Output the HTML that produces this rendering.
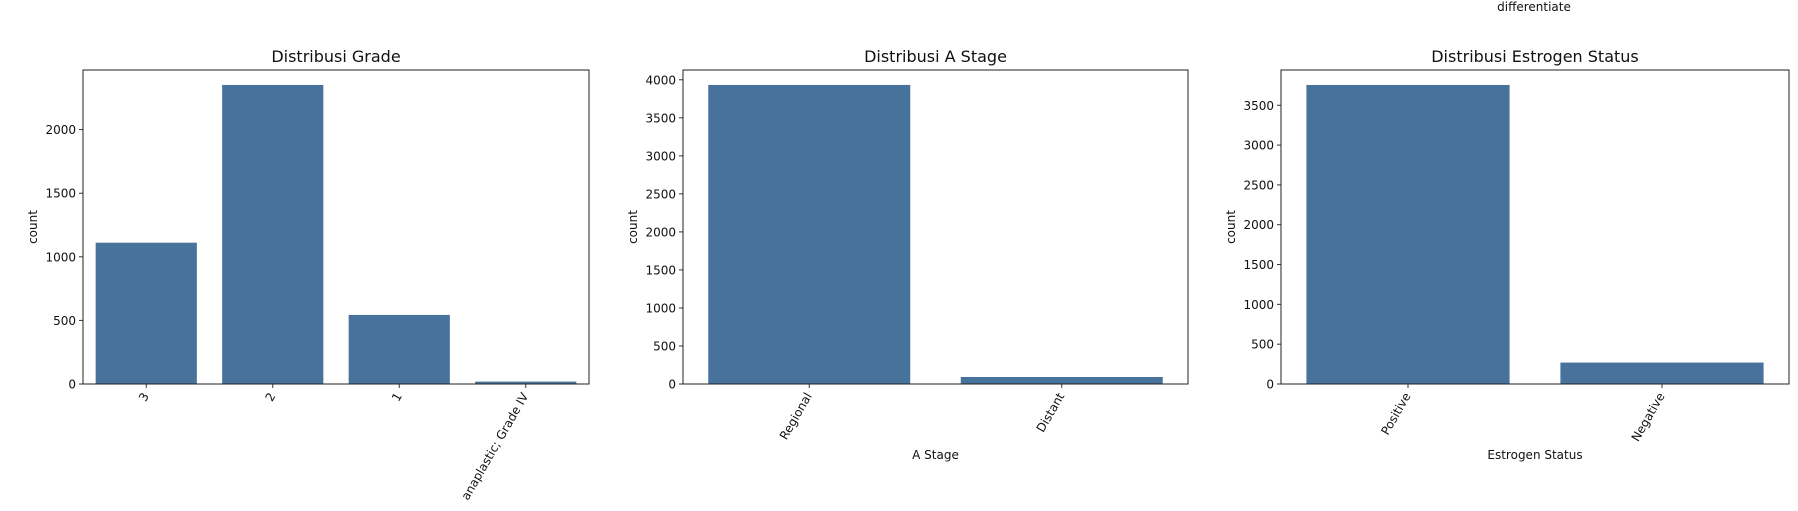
<!DOCTYPE html>
<html><head><meta charset="utf-8"><style>
html,body{margin:0;padding:0;background:#fff;}
svg{display:block;font-family:"DejaVu Sans","Liberation Sans",sans-serif;}
</style></head><body>
<svg id="fig" width="1798" height="511" viewBox="0 0 1798 511" xmlns="http://www.w3.org/2000/svg">
<text x="1534" y="11" font-size="12" text-anchor="middle" fill="#111">differentiate</text>
</svg>
<script>
const gradeCategories = ["3", "2", "1", "anaplastic; Grade IV"];
const gradeCounts = [1111, 2351, 543, 19];
const gradeTicks = [0, 500, 1000, 1500, 2000];
const stageCategories = ["Regional", "Distant"];
const stageCounts = [3932, 92];
const stageTicks = [0, 500, 1000, 1500, 2000, 2500, 3000, 3500, 4000];
const estrogenCategories = ["Positive", "Negative"];
const estrogenCounts = [3755, 269];
const estrogenTicks = [0, 500, 1000, 1500, 2000, 2500, 3000, 3500];

const NS = "http://www.w3.org/2000/svg";
const svg = document.getElementById("fig");
function mk(tag, attrs, parent) {
  const e = document.createElementNS(NS, tag);
  for (const k in attrs) e.setAttribute(k, attrs[k]);
  (parent || svg).appendChild(e);
  return e;
}
function chart(key, title, cats, vals, ticks, xlabel, L, R) {
  const T = 70, B = 384;
  const g = mk("g", {});
  
  
  const ymax = Math.max(...vals) * 1.05;
  const y = v => B - v / ymax * (B - T);
  const band = (R - L) / cats.length;
  const x = i => L + band * (i + 0.5);
  cats.forEach((c, i) => {
    const r = mk("rect", {x: x(i) - band * 0.4, y: y(vals[i]), width: band * 0.8, height: B - y(vals[i]), fill: "#46729c"}, g);
    
    
    mk("line", {x1: x(i), x2: x(i), y1: B, y2: B + 4, stroke: "#333", "stroke-width": 1}, g);
    const t = mk("text", {x: x(i), y: B + 10, "font-size": 12, "text-anchor": "end", fill: "#111",
      transform: "rotate(-60 " + x(i) + " " + (B + 10) + ")", "dominant-baseline": "middle"}, g);
    t.textContent = c;
    
    
  });
  ticks.forEach(v => {
    mk("line", {x1: L - 4, x2: L, y1: y(v), y2: y(v), stroke: "#333", "stroke-width": 1}, g);
    const t = mk("text", {x: L - 7, y: y(v) + 4.5, "font-size": 12, "text-anchor": "end", fill: "#111"}, g);
    t.textContent = v;
    
    
  });
  const fr = mk("rect", {x: L, y: T, width: R - L, height: B - T, fill: "none", stroke: "#222", "stroke-width": 1}, g);
  
  
  const tt = mk("text", {x: (L + R) / 2, y: 62, "font-size": 16, "text-anchor": "middle", fill: "#111"}, g);
  tt.textContent = title;
  
  
  const yl = mk("text", {x: 0, y: 0, "font-size": 12, "text-anchor": "middle", fill: "#111",
    transform: "translate(" + (L - 46) + " " + ((T + B) / 2) + ") rotate(-90)"}, g);
  yl.textContent = "count";
  
  
  if (xlabel) {
    const xl = mk("text", {x: (L + R) / 2, y: 459, "font-size": 12, "text-anchor": "middle", fill: "#111"}, g);
    xl.textContent = xlabel;
    
    
  }
}
chart("grade", "Distribusi Grade", gradeCategories, gradeCounts, gradeTicks, "", 83, 589);
chart("a-stage", "Distribusi A Stage", stageCategories, stageCounts, stageTicks, "A Stage", 683, 1188);
chart("estrogen", "Distribusi Estrogen Status", estrogenCategories, estrogenCounts, estrogenTicks, "Estrogen Status", 1281, 1789);
</script>
</body></html>
